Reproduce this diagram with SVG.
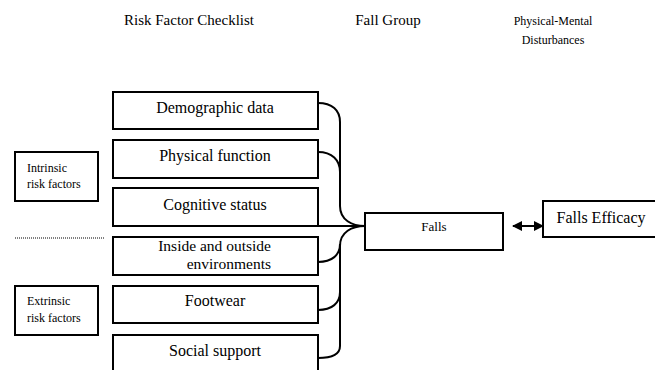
<svg xmlns="http://www.w3.org/2000/svg" width="655" height="370" viewBox="0 0 655 370" font-family="'Liberation Serif', 'Times New Roman', Tinos, serif">
<defs>
<marker id="ah" viewBox="0 0 10 10" refX="9" refY="5" markerWidth="10" markerHeight="10" markerUnits="userSpaceOnUse" orient="auto-start-reverse">
<path d="M0,0 L10,5 L0,10 z" fill="#000"/>
</marker>
<style>
.box{fill:#fff;stroke:#000;stroke-width:2}
.t{fill:#000}
.c{fill:none;stroke:#000;stroke-width:2}
</style>
</defs>
<rect width="655" height="370" fill="#fff"/>
<g id="headers">
<text class="t" x="189" y="25" font-size="15" text-anchor="middle">Risk Factor Checklist</text>
<text class="t" x="388" y="25" font-size="15" text-anchor="middle">Fall Group</text>
<text class="t" x="553" y="25" font-size="12" text-anchor="middle">Physical-Mental</text>
<text class="t" x="553" y="44" font-size="12" text-anchor="middle">Disturbances</text>
</g>
<g id="connectors">
<path class="c" d="M318,103 C332,103 340,110 340,122 L340,206 C340,220 352,226 365,226"/>
<path class="c" d="M318,152 C332,152 340,160 340,172"/>
<path class="c" d="M318,226 L365,226"/>
<path class="c" d="M365,226 C352,226 340,232 340,246 L340,346 C340,354 332,358 318,358"/>
<path class="c" d="M318,262 C332,262 340,255 340,244"/>
<path class="c" d="M318,310 C332,310 340,303 340,292"/>
<line class="c" x1="513" y1="226" x2="543" y2="226" marker-start="url(#ah)" marker-end="url(#ah)"/>
<line x1="15" y1="238" x2="104" y2="238" stroke="#000" stroke-width="1" stroke-dasharray="1,1"/>
</g>
<g id="intrinsic">
<rect class="box" x="15" y="152" width="83" height="49"/>
<text class="t" x="27" y="172" font-size="12">Intrinsic</text>
<text class="t" x="27" y="188" font-size="12">risk factors</text>
</g>
<g id="extrinsic">
<rect class="box" x="15" y="286" width="83" height="49"/>
<text class="t" x="27" y="305" font-size="12">Extrinsic</text>
<text class="t" x="27" y="322" font-size="12">risk factors</text>
</g>
<g id="demographic">
<rect class="box" x="113" y="92" width="205" height="37"/>
<text class="t" x="215" y="113" font-size="16" text-anchor="middle">Demographic data</text>
</g>
<g id="physical">
<rect class="box" x="113" y="140" width="205" height="38"/>
<text class="t" x="215" y="161" font-size="16" text-anchor="middle">Physical function</text>
</g>
<g id="cognitive">
<rect class="box" x="113" y="188" width="205" height="38"/>
<text class="t" x="215" y="210" font-size="16" text-anchor="middle">Cognitive status</text>
</g>
<g id="environments">
<rect class="box" x="113" y="237" width="205" height="38"/>
<text class="t" x="271" y="251" font-size="15.5" text-anchor="end">Inside and outside</text>
<text class="t" x="271" y="269" font-size="15.5" text-anchor="end">environments</text>
</g>
<g id="footwear">
<rect class="box" x="113" y="286" width="205" height="37"/>
<text class="t" x="215" y="306" font-size="16" text-anchor="middle">Footwear</text>
</g>
<g id="social">
<rect class="box" x="113" y="335" width="205" height="40"/>
<text class="t" x="215" y="356" font-size="16" text-anchor="middle">Social support</text>
</g>
<g id="falls">
<rect class="box" x="365" y="213" width="138" height="37"/>
<text class="t" x="434" y="231" font-size="13" text-anchor="middle">Falls</text>
</g>
<g id="efficacy">
<rect class="box" x="543" y="201" width="120" height="36"/>
<text class="t" x="601" y="223" font-size="16" text-anchor="middle">Falls Efficacy</text>
</g>
</svg>
